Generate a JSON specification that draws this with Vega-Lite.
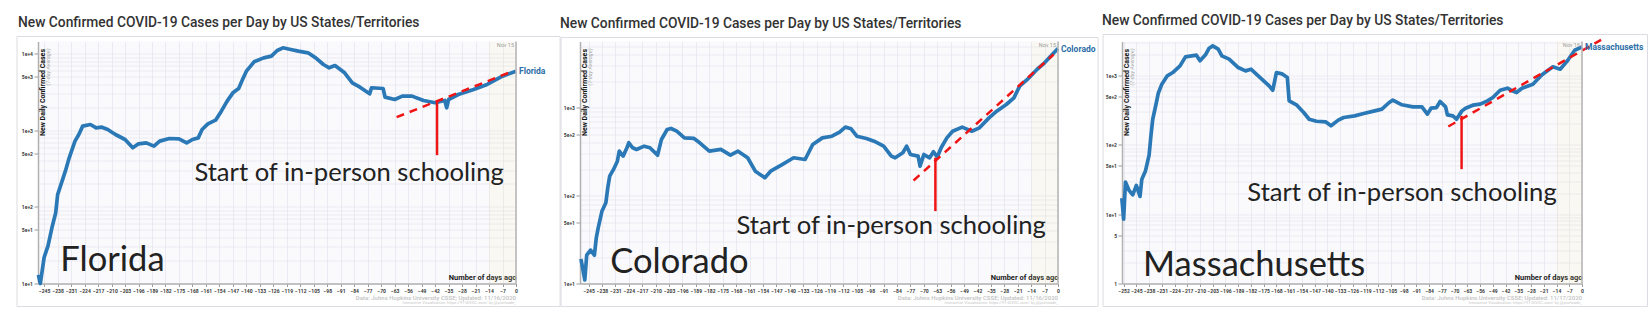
{
  "$schema": "https://vega.github.io/schema/vega-lite/v6.json",
  "background": "white",
  "padding": {"left": 16, "top": 13.5, "right": 0, "bottom": 0},
  "spacing": 64,
  "bounds": "flush",
  "config": {
    "font": "Roboto",
    "view": {"fill": "#fafafd", "stroke": null},
    "title": {"anchor": "start", "frame": "group", "dx": -20, "fontSize": 13.8, "fontWeight": 500, "color": "#333333", "font": "Roboto", "baseline": "alphabetic", "offset": 6.5},
    "axis": {"labelFont": "Roboto", "labelFontWeight": "bold", "labelColor": "#3a3a3a", "domainColor": "#b0b0b0", "domainWidth": 1.5, "tickColor": "#9a9a9a", "grid": true, "gridColor": "#e6e6ef", "gridWidth": 0.8, "labelOverlap": false},
    "axisX": {"labelFontSize": 5, "labelPadding": 1.5, "tickSize": 3, "tickCount": 100, "labelAngle": 0, "labelOverlap": false, "labelFlush": false, "titleAnchor": "end", "titleAlign": "right", "titleY": -2, "titleBaseline": "bottom", "titleFontSize": 7.5, "titleFontWeight": "bold", "titleColor": "#1a1a1a", "titleFont": "Roboto"},
    "axisY": {"labelFontSize": 5, "tickSize": 4, "labelPadding": 1.5, "labelOverlap": false, "titleAngle": 270, "titleAlign": "right", "titleBaseline": "middle", "titleX": 4.5, "titleY": 7, "titleFontSize": 7, "titleFontWeight": "bold", "titleColor": "#111111", "titleFont": "Roboto"}
  },
  "datasets": {
    "fl": [
      {"day": -248, "cases": 13}, {"day": -247, "cases": 10}, {"day": -245, "cases": 22}, {"day": -243, "cases": 31}, {"day": -241, "cases": 53}, {"day": -239, "cases": 84}, {"day": -238, "cases": 145}, {"day": -236, "cases": 206}, {"day": -234, "cases": 293}, {"day": -232, "cases": 438}, {"day": -229, "cases": 723}, {"day": -227, "cases": 883}, {"day": -225, "cases": 1135}, {"day": -221, "cases": 1193}, {"day": -218, "cases": 1080}, {"day": -215, "cases": 1100}, {"day": -212, "cases": 1026}, {"day": -208, "cases": 883}, {"day": -203, "cases": 760}, {"day": -199, "cases": 592}, {"day": -196, "cases": 667}, {"day": -192, "cases": 687}, {"day": -188, "cases": 622}, {"day": -185, "cases": 723}, {"day": -180, "cases": 783}, {"day": -175, "cases": 775}, {"day": -171, "cases": 687}, {"day": -168, "cases": 760}, {"day": -165, "cases": 798}, {"day": -163, "cases": 1026}, {"day": -160, "cases": 1216}, {"day": -156, "cases": 1358}, {"day": -153, "cases": 1781}, {"day": -150, "cases": 2405}, {"day": -147, "cases": 3090}, {"day": -144, "cases": 3522}, {"day": -142, "cases": 4600}, {"day": -140, "cases": 5930}, {"day": -136, "cases": 7855}, {"day": -131, "cases": 8850}, {"day": -127, "cases": 9310}, {"day": -124, "cases": 11040}, {"day": -121, "cases": 11970}, {"day": -117, "cases": 11380}, {"day": -113, "cases": 10820}, {"day": -108, "cases": 10300}, {"day": -104, "cases": 8850}, {"day": -100, "cases": 7245}, {"day": -97, "cases": 6560}, {"day": -94, "cases": 7030}, {"day": -89, "cases": 5640}, {"day": -85, "cases": 4180}, {"day": -81, "cases": 3665}, {"day": -76, "cases": 3000}, {"day": -75, "cases": 3600}, {"day": -69, "cases": 3520}, {"day": -68, "cases": 2720}, {"day": -63, "cases": 2530}, {"day": -59, "cases": 2800}, {"day": -54, "cases": 2800}, {"day": -48, "cases": 2455}, {"day": -42, "cases": 2290}, {"day": -37, "cases": 2455}, {"day": -36, "cases": 1970}, {"day": -35, "cases": 2530}, {"day": -30, "cases": 2940}, {"day": -22, "cases": 3420}, {"day": -15, "cases": 3975}, {"day": -7, "cases": 5105}, {"day": 0, "cases": 5930}
    ],
    "co": [
      {"day": -249, "cases": 19}, {"day": -247, "cases": 11}, {"day": -246, "cases": 21}, {"day": -244, "cases": 24}, {"day": -242, "cases": 21}, {"day": -241, "cases": 33}, {"day": -240, "cases": 43}, {"day": -238, "cases": 67}, {"day": -236, "cases": 83}, {"day": -235, "cases": 123}, {"day": -234, "cases": 167}, {"day": -232, "cases": 199}, {"day": -230, "cases": 247}, {"day": -229, "cases": 321}, {"day": -227, "cases": 282}, {"day": -225, "cases": 351}, {"day": -224, "cases": 400}, {"day": -222, "cases": 351}, {"day": -220, "cases": 336}, {"day": -216, "cases": 366}, {"day": -213, "cases": 351}, {"day": -209, "cases": 289}, {"day": -207, "cases": 436}, {"day": -204, "cases": 567}, {"day": -202, "cases": 582}, {"day": -199, "cases": 542}, {"day": -195, "cases": 455}, {"day": -190, "cases": 448}, {"day": -187, "cases": 400}, {"day": -182, "cases": 321}, {"day": -176, "cases": 336}, {"day": -171, "cases": 289}, {"day": -167, "cases": 321}, {"day": -162, "cases": 270}, {"day": -158, "cases": 190}, {"day": -153, "cases": 160}, {"day": -150, "cases": 190}, {"day": -144, "cases": 226}, {"day": -138, "cases": 270}, {"day": -132, "cases": 258}, {"day": -128, "cases": 383}, {"day": -123, "cases": 455}, {"day": -118, "cases": 475}, {"day": -114, "cases": 528}, {"day": -111, "cases": 603}, {"day": -108, "cases": 577}, {"day": -105, "cases": 475}, {"day": -100, "cases": 448}, {"day": -96, "cases": 417}, {"day": -91, "cases": 366}, {"day": -87, "cases": 282}, {"day": -85, "cases": 270}, {"day": -81, "cases": 308}, {"day": -79, "cases": 366}, {"day": -77, "cases": 294}, {"day": -73, "cases": 282}, {"day": -72, "cases": 217}, {"day": -70, "cases": 294}, {"day": -67, "cases": 270}, {"day": -65, "cases": 316}, {"day": -63, "cases": 275}, {"day": -61, "cases": 351}, {"day": -58, "cases": 455}, {"day": -55, "cases": 542}, {"day": -50, "cases": 603}, {"day": -45, "cases": 542}, {"day": -41, "cases": 592}, {"day": -36, "cases": 769}, {"day": -32, "cases": 916}, {"day": -27, "cases": 1091}, {"day": -23, "cases": 1300}, {"day": -20, "cases": 1767}, {"day": -16, "cases": 2104}, {"day": -11, "cases": 2731}, {"day": -7, "cases": 3250}, {"day": -3, "cases": 4045}, {"day": 0, "cases": 4735}
    ],
    "ma": [
      {"day": -253, "cases": 17}, {"day": -252, "cases": 8.5}, {"day": -251, "cases": 29}, {"day": -249, "cases": 22}, {"day": -247, "cases": 19}, {"day": -245, "cases": 26}, {"day": -243, "cases": 18}, {"day": -242, "cases": 32}, {"day": -240, "cases": 42}, {"day": -238, "cases": 71}, {"day": -237, "cases": 135}, {"day": -236, "cases": 234}, {"day": -234, "cases": 408}, {"day": -233, "cases": 550}, {"day": -231, "cases": 750}, {"day": -228, "cases": 989}, {"day": -225, "cases": 1104}, {"day": -221, "cases": 1377}, {"day": -218, "cases": 1858}, {"day": -212, "cases": 1963}, {"day": -210, "cases": 1629}, {"day": -207, "cases": 1986}, {"day": -205, "cases": 2478}, {"day": -203, "cases": 2680}, {"day": -200, "cases": 2399}, {"day": -198, "cases": 1922}, {"day": -194, "cases": 1722}, {"day": -189, "cases": 1303}, {"day": -185, "cases": 1167}, {"day": -182, "cases": 1233}, {"day": -178, "cases": 989}, {"day": -172, "cases": 710}, {"day": -170, "cases": 614}, {"day": -168, "cases": 1104}, {"day": -165, "cases": 1057}, {"day": -162, "cases": 935}, {"day": -161, "cases": 431}, {"day": -157, "cases": 378}, {"day": -153, "cases": 293}, {"day": -150, "cases": 234}, {"day": -146, "cases": 219}, {"day": -141, "cases": 215}, {"day": -138, "cases": 188}, {"day": -134, "cases": 227}, {"day": -131, "cases": 248}, {"day": -125, "cases": 262}, {"day": -120, "cases": 283}, {"day": -114, "cases": 309}, {"day": -110, "cases": 327}, {"day": -106, "cases": 408}, {"day": -104, "cases": 441}, {"day": -99, "cases": 378}, {"day": -93, "cases": 353}, {"day": -88, "cases": 353}, {"day": -85, "cases": 277}, {"day": -83, "cases": 338}, {"day": -80, "cases": 345}, {"day": -78, "cases": 422}, {"day": -75, "cases": 353}, {"day": -74, "cases": 271}, {"day": -71, "cases": 262}, {"day": -69, "cases": 234}, {"day": -66, "cases": 309}, {"day": -64, "cases": 338}, {"day": -60, "cases": 373}, {"day": -56, "cases": 386}, {"day": -52, "cases": 431}, {"day": -49, "cases": 482}, {"day": -45, "cases": 614}, {"day": -41, "cases": 656}, {"day": -39, "cases": 614}, {"day": -36, "cases": 568}, {"day": -33, "cases": 656}, {"day": -27, "cases": 750}, {"day": -22, "cases": 1023}, {"day": -16, "cases": 1333}, {"day": -12, "cases": 1233}, {"day": -8, "cases": 1629}, {"day": -4, "cases": 2317}, {"day": 0, "cases": 2590}
    ]
  },
  "hconcat": [
    {
      "width": 478, "height": 242,
      "title": {"text": "New Confirmed COVID-19 Cases per Day by US States/Territories"},
      "layer": [
        {"data": {"values": [{}]},
         "mark": {"type": "rect", "filled": false, "stroke": "#dcdce2", "strokeWidth": 1},
         "encoding": {
           "x": {"datum": -259.1, "type": "quantitative", "scale": {"domain": [-248.2, 0], "nice": false, "zero": false},
                 "axis": {"title": "Number of days ago", "grid": true, "tickCount": 100, "labelOverlap": false, "values": [-245,-238,-231,-224,-217,-210,-203,-196,-189,-182,-175,-168,-161,-154,-147,-140,-133,-126,-119,-112,-105,-98,-91,-84,-77,-70,-63,-56,-49,-42,-35,-28,-21,-14,-7,0]}},
           "x2": {"datum": 22.9},
           "y": {"datum": 16830, "type": "quantitative", "scale": {"type": "log", "domain": [10, 14470], "nice": false},
                 "axis": {"title": "New Daily Confirmed Cases", "labelOverlap": false, "values": [10,20,30,40,50,60,70,80,90,100,200,300,400,500,600,700,800,900,1000,2000,3000,4000,5000,6000,7000,8000,9000,10000],
                          "labelExpr": "indexof([1,5,10,50,100,500,1000,5000,10000], datum.value) >= 0 ? (datum.value < 10 ? format(datum.value, 'd') : format(datum.value, '.0e')) : ''",
                          "tickOpacity": {"condition": {"test": "indexof([1,5,10,50,100,500,1000,5000,10000], datum.value) >= 0", "value": 1}, "value": 0}}},
           "y2": {"datum": 5.01}
         }},
        {"data": {"values": [{}]},
         "mark": {"type": "rect", "color": "#f6f2a8", "opacity": 0.12},
         "encoding": {"x": {"datum": -14, "type": "quantitative"}, "x2": {"datum": 0}, "y": {"datum": 14470, "type": "quantitative"}, "y2": {"datum": 10}}},
        {"data": {"name": "fl"},
         "mark": {"type": "line", "color": "#2b78b6", "strokeWidth": 3.7, "strokeJoin": "round"},
         "encoding": {"x": {"field": "day", "type": "quantitative"}, "y": {"field": "cases", "type": "quantitative"}}},
        {"data": {"values": [{"day": -62, "cases": 1486}, {"day": -3, "cases": 5750}]},
         "mark": {"type": "line", "color": "#f01515", "strokeWidth": 2.5, "strokeDash": [8, 6]},
         "encoding": {"x": {"field": "day", "type": "quantitative"}, "y": {"field": "cases", "type": "quantitative"}}},
        {"data": {"values": [{"day": -41, "lo": 474, "hi": 2405}]},
         "mark": {"type": "rule", "color": "#f01515", "strokeWidth": 2.5},
         "encoding": {"x": {"field": "day", "type": "quantitative"}, "y": {"field": "lo", "type": "quantitative"}, "y2": {"field": "hi"}}},
        {"data": {"values": [{}]},
         "mark": {"type": "rule", "color": "#b5b5b5", "strokeWidth": 1.5},
         "encoding": {"x": {"datum": 0, "type": "quantitative"}, "y": {"datum": 14470, "type": "quantitative"}, "y2": {"datum": 10}}},
        {"data": {"name": "fl"}, "transform": [{"filter": "datum.day == 0"}],
         "mark": {"type": "text", "text": "Florida", "align": "left", "baseline": "middle", "dx": 3, "fontSize": 8.5, "fontWeight": "bold", "font": "Roboto", "color": "#2c6ea6"},
         "encoding": {"x": {"field": "day", "type": "quantitative"}, "y": {"field": "cases", "type": "quantitative"}}},
        {"data": {"values": [{"day": -167, "cases": 217, "label": "Start of in-person schooling"}]},
         "mark": {"type": "text", "align": "left", "baseline": "alphabetic", "font": "Lato", "fontSize": 25.6, "color": "#222222"},
         "encoding": {"x": {"field": "day", "type": "quantitative"}, "y": {"field": "cases", "type": "quantitative"}, "text": {"field": "label"}}},
        {"data": {"values": [{"day": -236.6, "cases": 14.5, "label": "Florida"}]},
         "mark": {"type": "text", "align": "left", "baseline": "alphabetic", "font": "Lato", "fontSize": 34.5, "color": "#222222"},
         "encoding": {"x": {"field": "day", "type": "quantitative"}, "y": {"field": "cases", "type": "quantitative"}, "text": {"field": "label"}}},
        {"data": {"values": [{}]},
         "mark": {"type": "text", "text": "(7-day Average)", "angle": 270, "align": "right", "baseline": "middle", "dx": -7, "dy": 10, "fontSize": 5.5, "fontStyle": "italic", "color": "#aaaaaa"},
         "encoding": {"x": {"datum": -248.2, "type": "quantitative"}, "y": {"datum": 14470, "type": "quantitative"}}},
        {"data": {"values": [{}]},
         "mark": {"type": "text", "text": "Nov 15", "align": "right", "baseline": "top", "dx": -2, "dy": 1.5, "fontSize": 5.5, "color": "#a0a0a0"},
         "encoding": {"x": {"datum": 0, "type": "quantitative"}, "y": {"datum": 14470, "type": "quantitative"}}},
        {"data": {"values": [{}]},
         "mark": {"type": "text", "text": "Data: Johns Hopkins University CSSE; Updated: 11/16/2020", "align": "right", "baseline": "alphabetic", "dy": 16, "fontSize": 6, "fontWeight": 500, "color": "#c2c2c2"},
         "encoding": {"x": {"datum": 0, "type": "quantitative"}, "y": {"datum": 10, "type": "quantitative"}}},
        {"data": {"values": [{}]},
         "mark": {"type": "text", "text": "Interactive Visualization: https://91-DIVOC.com/ by @profwade_", "align": "right", "baseline": "alphabetic", "dy": 20.5, "fontSize": 4, "color": "#c8c8c8"},
         "encoding": {"x": {"datum": 0, "type": "quantitative"}, "y": {"datum": 10, "type": "quantitative"}}}
      ]
    },
    {
      "width": 478, "height": 242,
      "title": {"text": "New Confirmed COVID-19 Cases per Day by US States/Territories"},
      "layer": [
        {"data": {"values": [{}]},
         "mark": {"type": "rect", "filled": false, "stroke": "#dcdce2", "strokeWidth": 1},
         "encoding": {
           "x": {"datum": -259.4, "type": "quantitative", "scale": {"domain": [-249.5, 0], "nice": false, "zero": false},
                 "axis": {"title": "Number of days ago", "grid": true, "tickCount": 100, "labelOverlap": false, "values": [-245,-238,-231,-224,-217,-210,-203,-196,-189,-182,-175,-168,-161,-154,-147,-140,-133,-126,-119,-112,-105,-98,-91,-84,-77,-70,-63,-56,-49,-42,-35,-28,-21,-14,-7,0]}},
           "x2": {"datum": 20.9},
           "y": {"datum": 6320, "type": "quantitative", "scale": {"type": "log", "domain": [10, 5690], "nice": false},
                 "axis": {"title": "New Daily Confirmed Cases", "labelOverlap": false, "values": [10,20,30,40,50,60,70,80,90,100,200,300,400,500,600,700,800,900,1000,2000,3000,4000,5000],
                          "labelExpr": "indexof([1,5,10,50,100,500,1000], datum.value) >= 0 ? (datum.value < 10 ? format(datum.value, 'd') : format(datum.value, '.0e')) : ''",
                          "tickOpacity": {"condition": {"test": "indexof([1,5,10,50,100,500,1000], datum.value) >= 0", "value": 1}, "value": 0}}},
           "y2": {"datum": 5.47}
         }},
        {"data": {"values": [{}]},
         "mark": {"type": "rect", "color": "#f6f2a8", "opacity": 0.12},
         "encoding": {"x": {"datum": -14, "type": "quantitative"}, "x2": {"datum": 0}, "y": {"datum": 5690, "type": "quantitative"}, "y2": {"datum": 10}}},
        {"data": {"name": "co"},
         "mark": {"type": "line", "color": "#2b78b6", "strokeWidth": 3.7, "strokeJoin": "round"},
         "encoding": {"x": {"field": "day", "type": "quantitative"}, "y": {"field": "cases", "type": "quantitative"}}},
        {"data": {"values": [{"day": -75.4, "cases": 149}, {"day": -2.3, "cases": 4045}]},
         "mark": {"type": "line", "color": "#f01515", "strokeWidth": 2.5, "strokeDash": [8, 6]},
         "encoding": {"x": {"field": "day", "type": "quantitative"}, "y": {"field": "cases", "type": "quantitative"}}},
        {"data": {"values": [{"day": -64, "lo": 66.7, "hi": 270}]},
         "mark": {"type": "rule", "color": "#f01515", "strokeWidth": 2.5},
         "encoding": {"x": {"field": "day", "type": "quantitative"}, "y": {"field": "lo", "type": "quantitative"}, "y2": {"field": "hi"}}},
        {"data": {"values": [{}]},
         "mark": {"type": "rule", "color": "#b5b5b5", "strokeWidth": 1.5},
         "encoding": {"x": {"datum": 0, "type": "quantitative"}, "y": {"datum": 5690, "type": "quantitative"}, "y2": {"datum": 10}}},
        {"data": {"name": "co"}, "transform": [{"filter": "datum.day == 0"}],
         "mark": {"type": "text", "text": "Colorado", "align": "left", "baseline": "middle", "dx": 3, "fontSize": 8.5, "fontWeight": "bold", "font": "Roboto", "color": "#2c6ea6"},
         "encoding": {"x": {"field": "day", "type": "quantitative"}, "y": {"field": "cases", "type": "quantitative"}}},
        {"data": {"values": [{"day": -167.8, "cases": 37, "label": "Start of in-person schooling"}]},
         "mark": {"type": "text", "align": "left", "baseline": "alphabetic", "font": "Lato", "fontSize": 25.6, "color": "#222222"},
         "encoding": {"x": {"field": "day", "type": "quantitative"}, "y": {"field": "cases", "type": "quantitative"}, "text": {"field": "label"}}},
        {"data": {"values": [{"day": -233.7, "cases": 13.2, "label": "Colorado"}]},
         "mark": {"type": "text", "align": "left", "baseline": "alphabetic", "font": "Lato", "fontSize": 34.5, "color": "#222222"},
         "encoding": {"x": {"field": "day", "type": "quantitative"}, "y": {"field": "cases", "type": "quantitative"}, "text": {"field": "label"}}},
        {"data": {"values": [{}]},
         "mark": {"type": "text", "text": "(7-day Average)", "angle": 270, "align": "right", "baseline": "middle", "dx": -7, "dy": 10, "fontSize": 5.5, "fontStyle": "italic", "color": "#aaaaaa"},
         "encoding": {"x": {"datum": -249.5, "type": "quantitative"}, "y": {"datum": 5690, "type": "quantitative"}}},
        {"data": {"values": [{}]},
         "mark": {"type": "text", "text": "Nov 15", "align": "right", "baseline": "top", "dx": -2, "dy": 1.5, "fontSize": 5.5, "color": "#a0a0a0"},
         "encoding": {"x": {"datum": 0, "type": "quantitative"}, "y": {"datum": 5690, "type": "quantitative"}}},
        {"data": {"values": [{}]},
         "mark": {"type": "text", "text": "Data: Johns Hopkins University CSSE; Updated: 11/16/2020", "align": "right", "baseline": "alphabetic", "dy": 16, "fontSize": 6, "fontWeight": 500, "color": "#c2c2c2"},
         "encoding": {"x": {"datum": 0, "type": "quantitative"}, "y": {"datum": 10, "type": "quantitative"}}},
        {"data": {"values": [{}]},
         "mark": {"type": "text", "text": "Interactive Visualization: https://91-DIVOC.com/ by @profwade_", "align": "right", "baseline": "alphabetic", "dy": 20.5, "fontSize": 4, "color": "#c8c8c8"},
         "encoding": {"x": {"datum": 0, "type": "quantitative"}, "y": {"datum": 10, "type": "quantitative"}}}
      ]
    },
    {
      "width": 460, "height": 242,
      "title": {"text": "New Confirmed COVID-19 Cases per Day by US States/Territories"},
      "layer": [
        {"data": {"values": [{}]},
         "mark": {"type": "rect", "filled": false, "stroke": "#dcdce2", "strokeWidth": 1},
         "encoding": {
           "x": {"datum": -263.3, "type": "quantitative", "scale": {"domain": [-252.9, 0], "nice": false, "zero": false},
                 "axis": {"title": "Number of days ago", "grid": true, "tickCount": 100, "labelOverlap": false, "values": [-252,-245,-238,-231,-224,-217,-210,-203,-196,-189,-182,-175,-168,-161,-154,-147,-140,-133,-126,-119,-112,-105,-98,-91,-84,-77,-70,-63,-56,-49,-42,-35,-28,-21,-14,-7,0]}},
           "x2": {"datum": 36},
           "y": {"datum": 3905, "type": "quantitative", "scale": {"type": "log", "domain": [1, 3094], "nice": false},
                 "axis": {"title": "New Daily Confirmed Cases", "labelOverlap": false, "values": [1,2,3,4,5,6,7,8,9,10,20,30,40,50,60,70,80,90,100,200,300,400,500,600,700,800,900,1000,2000,3000],
                          "labelExpr": "indexof([1,5,10,50,100,500,1000], datum.value) >= 0 ? (datum.value < 10 ? format(datum.value, 'd') : format(datum.value, '.0e')) : ''",
                          "tickOpacity": {"condition": {"test": "indexof([1,5,10,50,100,500,1000], datum.value) >= 0", "value": 1}, "value": 0}}},
           "y2": {"datum": 0.466}
         }},
        {"data": {"values": [{}]},
         "mark": {"type": "rect", "color": "#f6f2a8", "opacity": 0.12},
         "encoding": {"x": {"datum": -14, "type": "quantitative"}, "x2": {"datum": 0}, "y": {"datum": 3094, "type": "quantitative"}, "y2": {"datum": 1}}},
        {"data": {"name": "ma"},
         "mark": {"type": "line", "color": "#2b78b6", "strokeWidth": 3.7, "strokeJoin": "round"},
         "encoding": {"x": {"field": "day", "type": "quantitative"}, "y": {"field": "cases", "type": "quantitative"}}},
        {"data": {"values": [{"day": -73.5, "cases": 184}, {"day": 10.5, "cases": 3270}]},
         "mark": {"type": "line", "color": "#f01515", "strokeWidth": 2.5, "strokeDash": [8, 6]},
         "encoding": {"x": {"field": "day", "type": "quantitative"}, "y": {"field": "cases", "type": "quantitative"}}},
        {"data": {"values": [{"day": -66.2, "lo": 44.6, "hi": 262}]},
         "mark": {"type": "rule", "color": "#f01515", "strokeWidth": 2.5},
         "encoding": {"x": {"field": "day", "type": "quantitative"}, "y": {"field": "lo", "type": "quantitative"}, "y2": {"field": "hi"}}},
        {"data": {"values": [{}]},
         "mark": {"type": "rule", "color": "#b5b5b5", "strokeWidth": 1.5},
         "encoding": {"x": {"datum": 0, "type": "quantitative"}, "y": {"datum": 3094, "type": "quantitative"}, "y2": {"datum": 1}}},
        {"data": {"name": "ma"}, "transform": [{"filter": "datum.day == 0"}],
         "mark": {"type": "text", "text": "Massachusetts", "align": "left", "baseline": "middle", "dx": 3, "fontSize": 8.5, "fontWeight": "bold", "font": "Roboto", "color": "#2c6ea6"},
         "encoding": {"x": {"field": "day", "type": "quantitative"}, "y": {"field": "cases", "type": "quantitative"}}},
        {"data": {"values": [{"day": -184, "cases": 15.6, "label": "Start of in-person schooling"}]},
         "mark": {"type": "text", "align": "left", "baseline": "alphabetic", "font": "Lato", "fontSize": 25.6, "color": "#222222"},
         "encoding": {"x": {"field": "day", "type": "quantitative"}, "y": {"field": "cases", "type": "quantitative"}, "text": {"field": "label"}}},
        {"data": {"values": [{"day": -241.3, "cases": 1.29, "label": "Massachusetts"}]},
         "mark": {"type": "text", "align": "left", "baseline": "alphabetic", "font": "Lato", "fontSize": 34.5, "color": "#222222"},
         "encoding": {"x": {"field": "day", "type": "quantitative"}, "y": {"field": "cases", "type": "quantitative"}, "text": {"field": "label"}}},
        {"data": {"values": [{}]},
         "mark": {"type": "text", "text": "(7-day Average)", "angle": 270, "align": "right", "baseline": "middle", "dx": -7, "dy": 10, "fontSize": 5.5, "fontStyle": "italic", "color": "#aaaaaa"},
         "encoding": {"x": {"datum": -252.9, "type": "quantitative"}, "y": {"datum": 3094, "type": "quantitative"}}},
        {"data": {"values": [{}]},
         "mark": {"type": "text", "text": "Nov 16", "align": "right", "baseline": "top", "dx": -2, "dy": 1.5, "fontSize": 5.5, "color": "#a0a0a0"},
         "encoding": {"x": {"datum": 0, "type": "quantitative"}, "y": {"datum": 3094, "type": "quantitative"}}},
        {"data": {"values": [{}]},
         "mark": {"type": "text", "text": "Data: Johns Hopkins University CSSE; Updated: 11/17/2020", "align": "right", "baseline": "alphabetic", "dy": 16, "fontSize": 6, "fontWeight": 500, "color": "#c2c2c2"},
         "encoding": {"x": {"datum": 0, "type": "quantitative"}, "y": {"datum": 1, "type": "quantitative"}}},
        {"data": {"values": [{}]},
         "mark": {"type": "text", "text": "Interactive Visualization: https://91-DIVOC.com/ by @profwade_", "align": "right", "baseline": "alphabetic", "dy": 20.5, "fontSize": 4, "color": "#c8c8c8"},
         "encoding": {"x": {"datum": 0, "type": "quantitative"}, "y": {"datum": 1, "type": "quantitative"}}}
      ]
    }
  ]
}
